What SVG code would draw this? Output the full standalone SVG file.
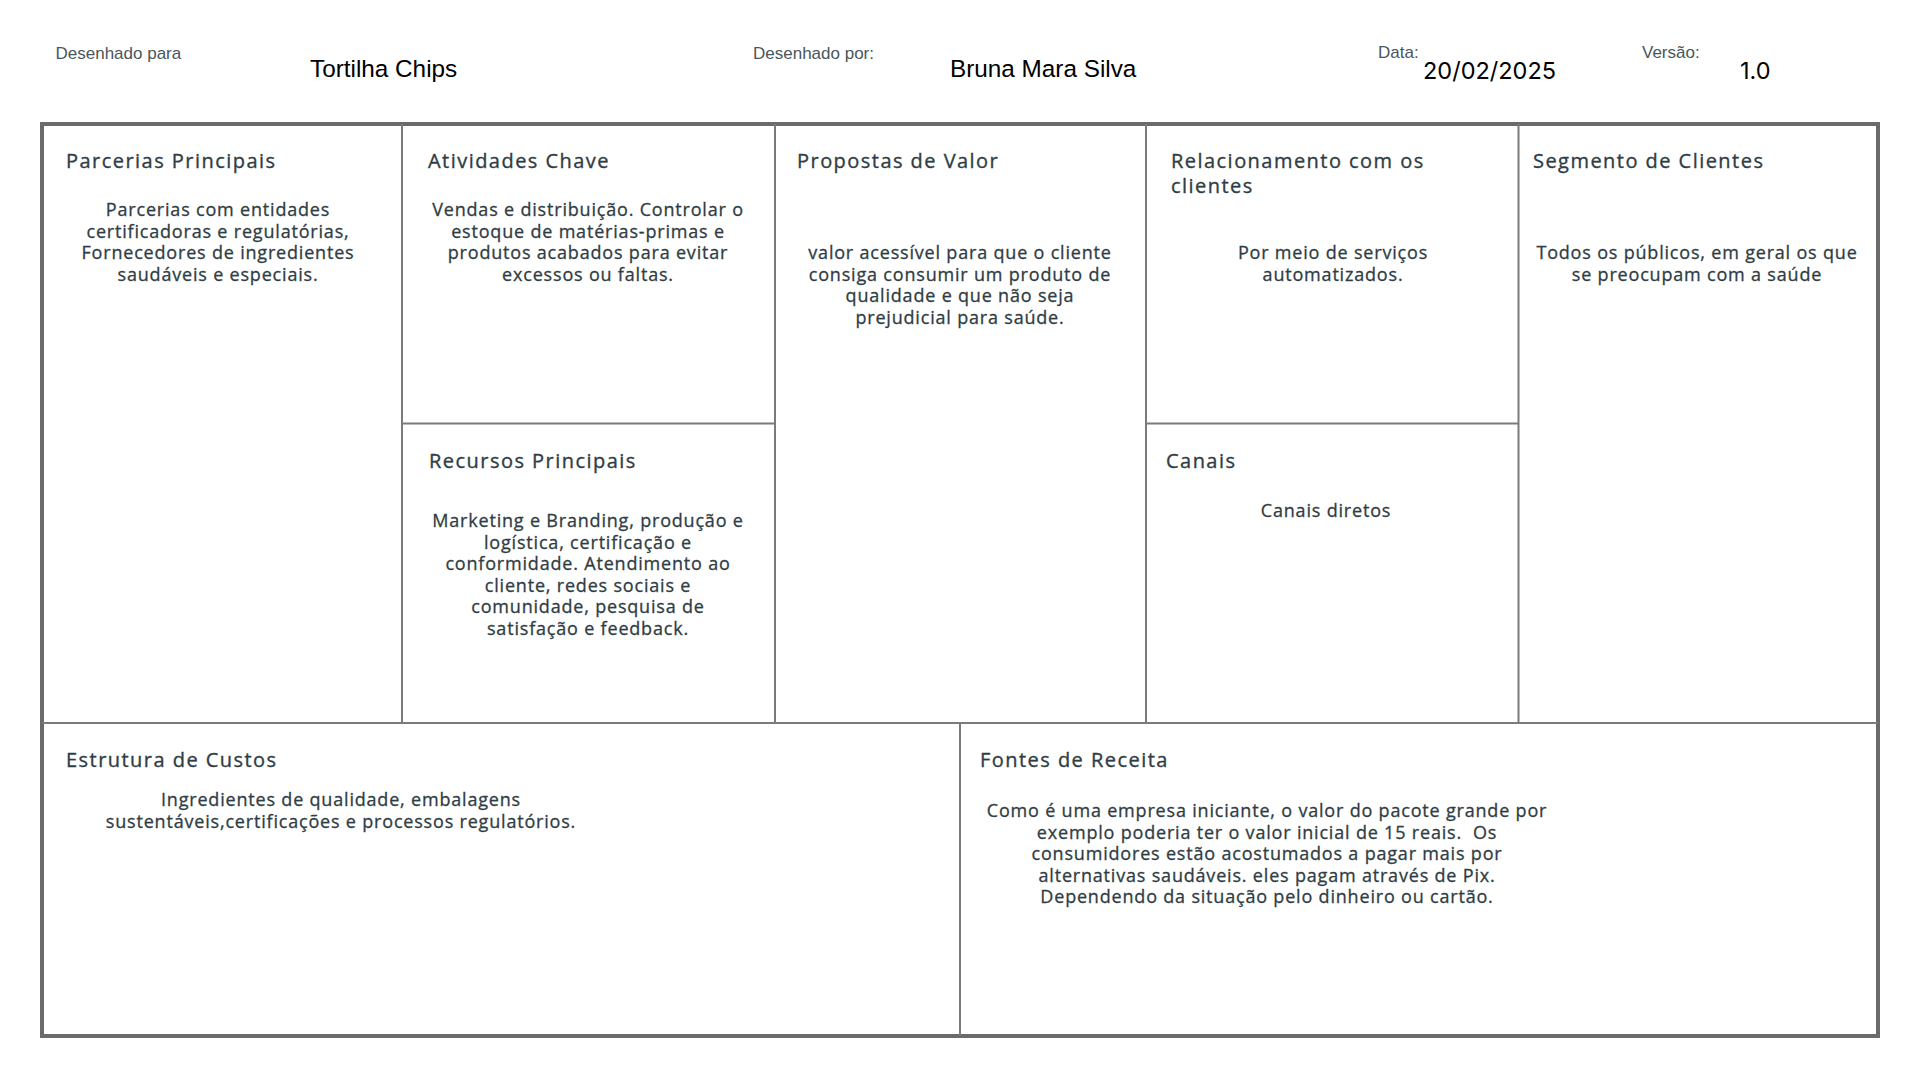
<svg xmlns="http://www.w3.org/2000/svg" width="1920" height="1080" viewBox="0 0 1920 1080">
<style>
.lbl{font-family:"Liberation Sans",Arial,sans-serif;font-size:17px;fill:#4a565c}
.val{font-family:"Liberation Sans",Arial,sans-serif;font-size:24.3px;fill:#000}
.num{font-family:Inter,"Liberation Sans",sans-serif;font-size:23.5px;fill:#000}
.h{font-family:"Open Sans","Noto Sans",sans-serif;font-size:20px;font-weight:500;fill:#2f3d44;stroke:#2f3d44;stroke-width:0.35px;letter-spacing:0.073em}
.b{font-family:"Open Sans","Noto Sans",sans-serif;font-size:18px;font-weight:500;fill:#2f3d44;stroke:#2f3d44;stroke-width:0.3px;letter-spacing:0.045em;text-anchor:middle}
.frame{fill:#fff;stroke:#6b6b6b;stroke-width:4}
.div{stroke:#7b7b7b;stroke-width:2;fill:none}
</style>
<rect width="1920" height="1080" fill="#fff"/>
<g id="header">
<text class="lbl" x="55.5" y="59.3">Desenhado para</text>
<text class="val" x="310" y="76.7">Tortilha Chips</text>
<text class="lbl" x="753" y="59.3">Desenhado por:</text>
<text class="val" x="950" y="76.7">Bruna Mara Silva</text>
<text class="lbl" x="1378" y="58.3">Data:</text>
<text class="num" x="1423" y="79.3">20/02/2025</text>
<text class="lbl" x="1642" y="58.3">Versão:</text>
<text class="num" x="1740" y="79.3">1.0</text>
</g>
<g id="connectors">
<rect class="frame" x="42" y="124" width="1836" height="912"/>
<line class="div" x1="402" y1="124" x2="402" y2="723"/>
<line class="div" x1="775" y1="124" x2="775" y2="723"/>
<line class="div" x1="1146" y1="124" x2="1146" y2="723"/>
<line class="div" x1="1518.5" y1="124" x2="1518.5" y2="723"/>
<line class="div" x1="402" y1="423.5" x2="775" y2="423.5"/>
<line class="div" x1="1146" y1="423.5" x2="1518.5" y2="423.5"/>
<line class="div" x1="42" y1="723" x2="1878" y2="723"/>
<line class="div" x1="960" y1="723" x2="960" y2="1036"/>
</g>
<g id="parcerias">
<text class="h" x="66" y="167.5">Parcerias Principais</text>
<text class="b" x="218" y="216">Parcerias com entidades</text>
<text class="b" x="218" y="237.5">certificadoras e regulatórias,</text>
<text class="b" x="218" y="259">Fornecedores de ingredientes</text>
<text class="b" x="218" y="280.5">saudáveis e especiais.</text>
</g>
<g id="atividades">
<text class="h" x="428" y="167.5">Atividades Chave</text>
<text class="b" x="588" y="216">Vendas e distribuição. Controlar o</text>
<text class="b" x="588" y="237.5">estoque de matérias-primas e</text>
<text class="b" x="588" y="259">produtos acabados para evitar</text>
<text class="b" x="588" y="280.5">excessos ou faltas.</text>
</g>
<g id="propostas">
<text class="h" x="797" y="167.5">Propostas de Valor</text>
<text class="b" x="960" y="259">valor acessível para que o cliente</text>
<text class="b" x="960" y="280.5">consiga consumir um produto de</text>
<text class="b" x="960" y="302">qualidade e que não seja</text>
<text class="b" x="960" y="323.5">prejudicial para saúde.</text>
</g>
<g id="relacionamento">
<text class="h" x="1171" y="167.5">Relacionamento com os</text>
<text class="h" x="1171" y="192.5">clientes</text>
<text class="b" x="1333" y="259">Por meio de serviços</text>
<text class="b" x="1333" y="280.5">automatizados.</text>
</g>
<g id="segmento">
<text class="h" x="1533" y="167.5">Segmento de Clientes</text>
<text class="b" x="1697" y="259">Todos os públicos, em geral os que</text>
<text class="b" x="1697" y="280.5">se preocupam com a saúde</text>
</g>
<g id="recursos">
<text class="h" x="429" y="468">Recursos Principais</text>
<text class="b" x="588" y="527">Marketing e Branding, produção e</text>
<text class="b" x="588" y="548.5">logística, certificação e</text>
<text class="b" x="588" y="570">conformidade. Atendimento ao</text>
<text class="b" x="588" y="591.5">cliente, redes sociais e</text>
<text class="b" x="588" y="613">comunidade, pesquisa de</text>
<text class="b" x="588" y="634.5">satisfação e feedback.</text>
</g>
<g id="canais">
<text class="h" x="1166" y="468">Canais</text>
<text class="b" x="1326" y="517">Canais diretos</text>
</g>
<g id="custos">
<text class="h" x="66" y="767">Estrutura de Custos</text>
<text class="b" x="341" y="806">Ingredientes de qualidade, embalagens</text>
<text class="b" x="341" y="827.5">sustentáveis,certificações e processos regulatórios.</text>
</g>
<g id="receita">
<text class="h" x="980" y="767">Fontes de Receita</text>
<text class="b" x="1267" y="817">Como é uma empresa iniciante, o valor do pacote grande por</text>
<text class="b" x="1267" y="838.5" xml:space="preserve">exemplo poderia ter o valor inicial de 15 reais.  Os</text>
<text class="b" x="1267" y="860">consumidores estão acostumados a pagar mais por</text>
<text class="b" x="1267" y="881.5">alternativas saudáveis. eles pagam através de Pix.</text>
<text class="b" x="1267" y="903">Dependendo da situação pelo dinheiro ou cartão.</text>
</g>
</svg>
